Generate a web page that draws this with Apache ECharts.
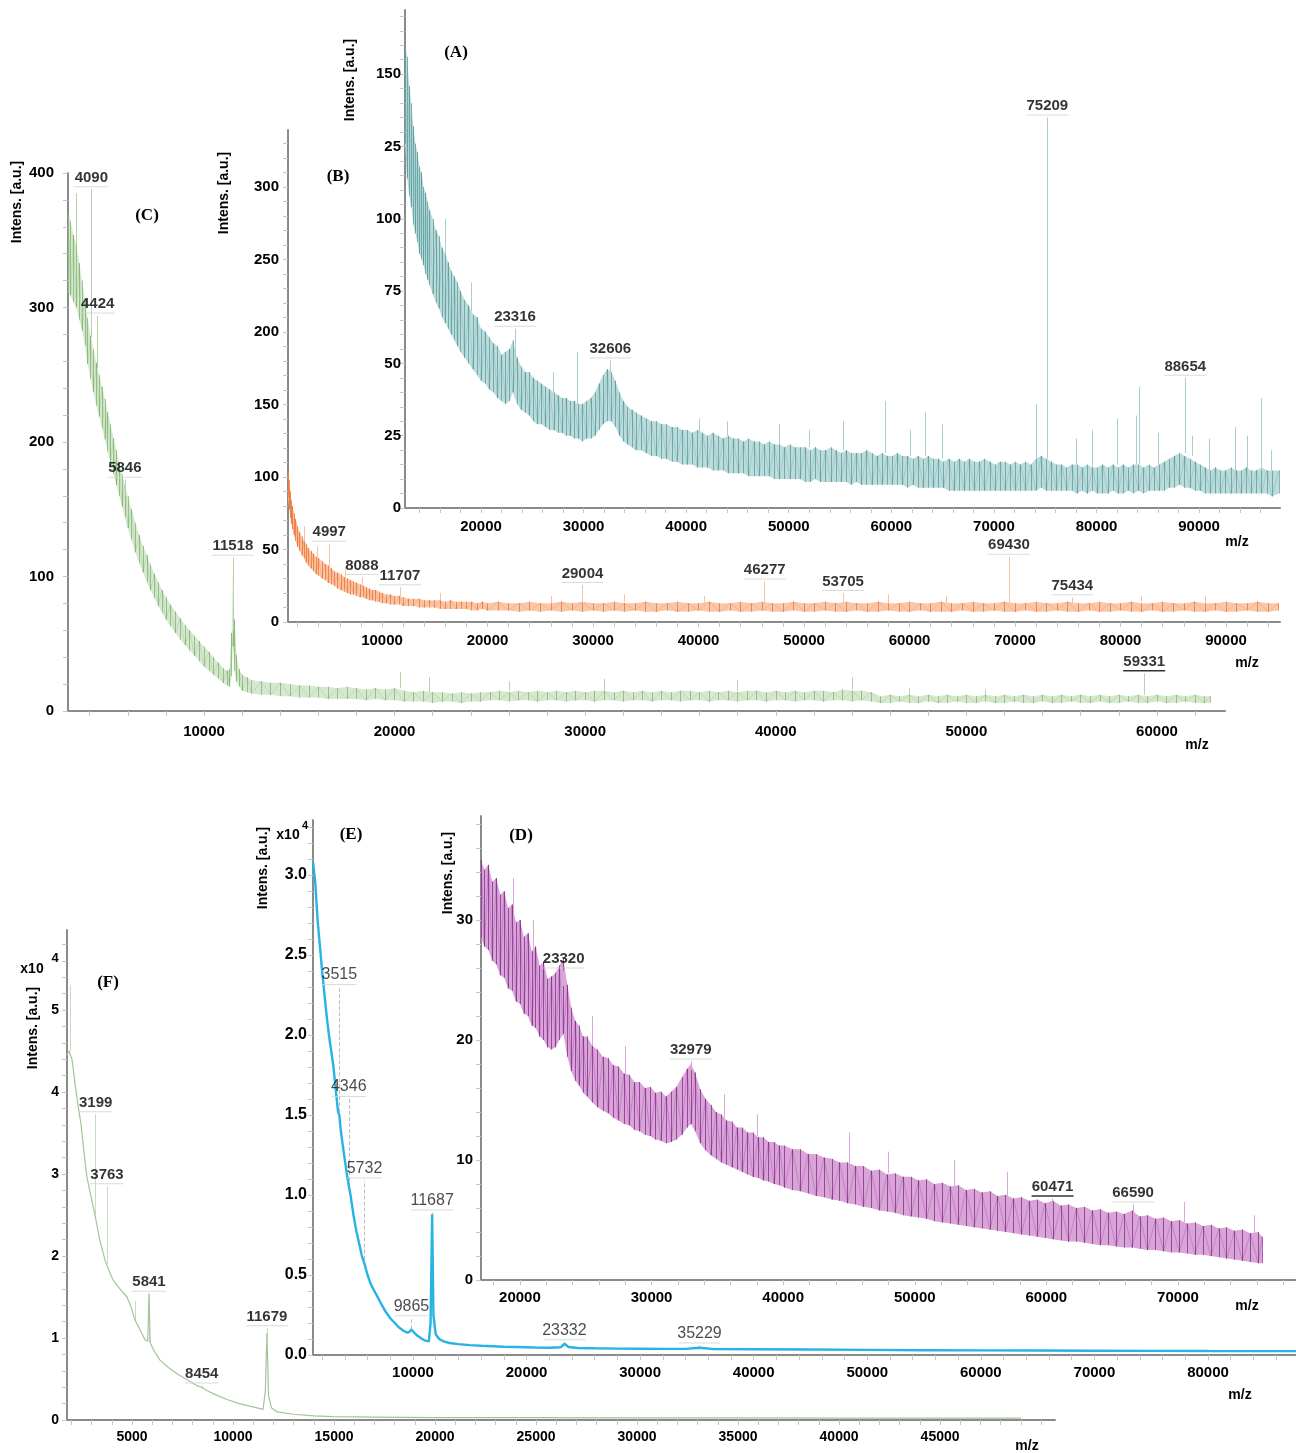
<!DOCTYPE html>
<html>
  <head>
    <meta charset="utf-8">
    <title>MALDI spectra A-F</title>
    <style>
      html, body { margin: 0; padding: 0; background: #fff; }
    </style>
  </head>
  <body>
    <div id="main" style="width: 1296px;height:1453px;"></div>
  </body>
  <script type="text/javascript" src="https://cdn.jsdelivr.net/npm/echarts@6/dist/echarts.min.js"></script>
  <script type="text/javascript">
      // spectra as [m/z, lower edge, upper edge] of the noise band
      var specA = [
        [12600,126,160],[12800,114,156],[13000,108,146],[13200,104,140],[13400,98,132],[13600,95,126],[13800,92,123],[14000,88,118],
        [14200,86,116],[14400,84,111],[14600,81,109],[14800,79,106],[15000,77,103],[15300,74,100],[15600,71,96],[15900,69,94],
        [16200,66,90],[16500,64,88],[16800,62,85],[17100,60,82],[17400,58,80],[17700,56,78],[18000,54,75],[18400,52,72],
        [18800,50,70],[19200,48,67],[19600,46,66],[20000,44,62],[20400,43,61],[20800,41,59],[21200,40,57],[21600,38,56],
        [22000,37,53],[22400,36,54],[22800,37,55],[23100,40,58],[23500,36,52],[23900,34,49],[24300,33,47],[24700,32,47],
        [25100,30,45],[25500,29,44],[25900,29,43],[26300,28,42],[26700,27,41],[27100,27,40],[27500,26,39],[27900,26,38],
        [28300,25,38],[28700,25,37],[29100,24,37],[29500,24,36],[29900,23,36],[30300,24,37],[30700,24,38],[31100,25,40],
        [31500,27,43],[31900,29,46],[32300,30,48],[32700,30,47],[33100,28,44],[33500,25,40],[33900,23,37],[34300,22,35],
        [34700,21,34],[35100,20,33],[35600,20,32],[36100,19,31],[36600,18,30],[37100,18,30],[37600,17,29],[38100,17,29],
        [38600,16,28],[39100,16,28],[39600,15,27],[40100,15,27],[40600,15,26],[41100,14,27],[41600,14,26],[42100,14,25],
        [42600,13,26],[43100,13,25],[43600,13,24],[44100,12,25],[44600,12,24],[45100,12,24],[45600,12,23],[46100,11,24],
        [46600,11,23],[47100,11,23],[47600,11,22],[48100,11,23],[48600,10,22],[49100,10,22],[49600,10,21],[50100,10,22],
        [50600,10,21],[51100,10,21],[51600,9,21],[52100,9,20],[52600,10,21],[53100,9,20],[53600,9,20],[54100,9,21],
        [54600,9,20],[55100,9,19],[55600,9,20],[56100,8,19],[56600,9,19],[57100,8,19],[57600,8,20],[58100,8,19],
        [58600,8,18],[59100,8,19],[59600,8,18],[60100,8,18],[60600,8,19],[61100,8,18],[61600,7,18],[62100,8,17],
        [62600,7,18],[63100,7,17],[63600,7,18],[64100,7,17],[64600,7,17],[65100,7,16],[65600,6,17],[66100,6,16],
        [66600,6,17],[67100,6,16],[67600,6,17],[68100,6,16],[68600,6,16],[69100,6,17],[69600,6,16],[70100,6,15],
        [70600,6,16],[71100,6,16],[71600,6,15],[72100,6,16],[72600,6,15],[73100,6,16],[73600,6,15],[74100,6,17],
        [74600,7,18],[75100,6,17],[75600,6,16],[76100,6,15],[76600,6,15],[77100,6,14],[77600,6,15],[78100,5,15],
        [78600,6,14],[79100,5,15],[79600,6,14],[80100,5,14],[80600,5,15],[81100,5,14],[81600,6,15],[82100,5,14],
        [82600,5,15],[83100,6,14],[83600,5,15],[84100,6,15],[84600,5,14],[85100,6,15],[85600,6,14],[86100,6,15],
        [86600,6,16],[87100,7,17],[87600,7,18],[88100,8,19],[88600,7,18],[89100,7,17],[89600,6,16],[90100,6,15],
        [90600,5,14],[91100,5,13],[91600,5,14],[92100,5,13],[92600,5,13],[93100,5,14],[93600,5,13],[94100,5,13],
        [94600,5,14],[95100,5,13],[95600,5,13],[96100,5,14],[96600,5,13],[97100,4,13],[97800,5,13]
      ];
      var specB = [
        [1090,86,106],[1200,78,98],[1300,72,90],[1400,68,84],[1500,64,80],[1650,60,75],[1800,56,71],[2000,52,66],
        [2200,49,62],[2400,46,59],[2600,44,56],[2800,41,54],[3000,39,51],[3250,37,49],[3500,35,47],[3750,33,45],
        [4000,32,44],[4300,30,42],[4600,29,40],[4900,27,39],[5200,26,37],[5500,25,35],[5800,23,34],[6100,22,33],
        [6400,21,31],[6700,20,30],[7000,19,29],[7300,19,28],[7600,18,27],[7900,17,26],[8200,17,25],[8500,16,24],
        [8800,15,23],[9100,15,22],[9400,14,22],[9700,14,21],[10000,13,20],[10400,13,19],[10800,12,19],[11200,12,18],
        [11600,12,18],[12000,11,17],[12500,11,16],[13000,11,16],[13500,10,16],[14000,10,15],[14500,10,15],[15000,10,15],
        [15500,9,15],[16000,9,14],[16500,9,15],[17000,9,14],[17500,9,14],[18000,9,14],[18500,8,14],[19000,8,13],
        [19500,9,14],[20000,8,13],[21000,8,14],[22000,8,13],[23000,7,13],[24000,8,14],[25000,7,13],[26000,8,13],
        [27000,7,14],[28000,8,13],[29000,7,14],[30000,8,13],[31000,7,13],[32000,8,14],[33000,7,13],[34000,8,13],
        [35000,7,14],[36000,7,13],[37000,8,13],[38000,7,14],[39000,7,13],[40000,8,13],[41000,7,14],[42000,7,13],
        [43000,8,13],[44000,7,14],[45000,7,13],[46000,8,14],[47000,7,13],[48000,7,13],[49000,8,14],[50000,7,13],
        [51000,7,13],[52000,8,14],[53000,7,13],[54000,7,14],[55000,8,13],[56000,7,13],[57000,7,14],[58000,8,13],
        [59000,7,13],[60000,7,14],[61000,8,13],[62000,7,13],[63000,7,14],[64000,7,13],[65000,8,13],[66000,7,14],
        [67000,7,13],[68000,8,13],[69000,7,14],[70000,7,13],[71000,8,13],[72000,7,14],[73000,7,13],[74000,8,13],
        [75000,7,14],[76000,7,13],[77000,8,13],[78000,7,14],[79000,7,13],[80000,8,13],[81000,7,14],[82000,7,13],
        [83000,8,13],[84000,7,14],[85000,7,13],[86000,8,13],[87000,7,14],[88000,7,13],[89000,8,13],[90000,7,14],
        [91000,7,13],[92000,8,13],[93000,7,14],[94000,7,13],[95000,8,13]
      ];
      var specC = [
        [2870,312,372],[3000,309,364],[3150,304,354],[3300,300,347],[3450,291,333],[3600,283,320],[3750,272,306],[3900,258,292],
        [4050,247,279],[4200,237,269],[4350,227,259],[4500,219,250],[4650,210,241],[4800,202,232],[4950,193,222],[5100,185,213],
        [5250,176,203],[5400,168,194],[5550,160,185],[5700,152,176],[5850,144,168],[6000,136,160],[6200,127,150],[6400,118,140],
        [6600,110,131],[6800,103,123],[7000,96,116],[7200,90,109],[7400,84,102],[7600,78,96],[7800,73,90],[8000,68,85],
        [8250,63,79],[8500,58,74],[8750,53,69],[9000,49,64],[9250,45,60],[9500,41,56],[9750,37,52],[10000,33,48],
        [10250,30,44],[10500,27,40],[10750,24,36],[11000,21,32],[11200,19,30],[11350,18,31],[11450,26,58],[11518,48,104],
        [11600,30,68],[11700,22,42],[11850,18,31],[12000,15,27],[12250,14,25],[12500,13,23],[13000,12,22],[13500,12,21],
        [14000,11,21],[14500,11,20],[15000,10,19],[15500,10,19],[16000,10,18],[16500,9,18],[17000,9,17],[17500,9,18],
        [18000,9,17],[18500,8,16],[19000,9,17],[19500,8,16],[20000,8,17],[20500,7,15],[21000,7,14],[21500,7,15],
        [22000,6,14],[22500,7,14],[23000,7,13],[23500,6,14],[24000,7,13],[24500,7,14],[25000,8,14],[25500,8,15],
        [26000,7,14],[26500,8,15],[27000,8,14],[27500,7,15],[28000,8,14],[28500,8,15],[29000,7,14],[29500,8,15],
        [30000,8,14],[30500,7,15],[31000,8,15],[31500,8,14],[32000,7,15],[32500,8,14],[33000,8,15],[33500,7,14],
        [34000,8,15],[34500,8,14],[35000,7,15],[35500,8,15],[36000,8,14],[36500,7,15],[37000,8,14],[37500,8,15],
        [38000,7,14],[38500,8,15],[39000,8,15],[39500,7,14],[40000,8,15],[40500,8,14],[41000,7,15],[41500,8,14],
        [42000,8,15],[42500,7,15],[43000,8,14],[43500,8,16],[44000,7,15],[44500,8,15],[45000,7,14],[45500,6,11],
        [46000,6,12],[46500,7,11],[47000,6,12],[47500,6,11],[48000,7,12],[48500,6,11],[49000,6,12],[49500,7,11],
        [50000,6,12],[50500,6,11],[51000,7,12],[51500,6,11],[52000,6,12],[52500,7,11],[53000,6,12],[53500,6,11],
        [54000,7,12],[54500,6,11],[55000,6,12],[55500,7,11],[56000,6,12],[56500,6,11],[57000,7,12],[57500,6,11],
        [58000,6,12],[58500,7,11],[59000,6,12],[59500,6,11],[60000,7,12],[60500,6,11],[61000,6,12],[61500,7,11],
        [62000,6,12],[62500,6,11],[62800,6,11]
      ];
      var specD = [
        [17040,28.5,35],[17300,27.8,34.2],[17600,27.5,34.6],[17900,26.6,33.2],[18200,26.3,33.5],[18500,25.4,32.1],[18800,25.2,32.4],
        [19100,24.3,31],[19400,24.1,31.3],[19700,23.2,29.8],[20000,23,30],[20300,22.2,28.6],[20600,22,28.9],[20900,21.2,27.4],
        [21200,21,27.8],[21500,20.3,26.2],[21800,20,26.5],[22100,19.4,25.1],[22400,19.2,25.3],[22700,19.4,25.6],[23000,20,26.2],
        [23300,20.5,26.8],[23600,18.6,24.6],[23900,17.4,22.7],[24200,16.6,21.6],[24500,16.2,21.2],[24800,15.6,20.3],[25100,15.3,20.3],
        [25500,14.8,19.5],[25900,14.4,19.2],[26300,14.1,18.6],[26700,13.9,18.5],[27100,13.5,17.9],[27500,13.3,17.8],[27900,13,17.2],
        [28300,12.9,17.1],[28700,12.5,16.5],[29100,12.4,16.5],[29500,12.1,16],[29900,12,16.1],[30300,11.7,15.6],[30700,11.6,15.7],
        [31100,11.4,15.3],[31500,11.5,15.7],[31900,11.7,16.1],[32300,12.1,16.9],[32700,12.7,17.6],[33000,13,18],[33300,12.4,17.3],
        [33700,11.4,15.9],[34100,10.8,15.1],[34500,10.4,14.6],[34900,10.1,14],[35300,9.8,13.8],[35700,9.6,13.3],[36100,9.4,13.2],
        [36500,9.2,12.7],[36900,9,12.7],[37300,8.8,12.3],[37700,8.6,12.3],[38100,8.5,11.9],[38500,8.3,11.9],[38900,8.2,11.5],
        [39300,8,11.5],[39700,7.9,11.2],[40100,7.7,11.2],[40700,7.5,10.9],[41300,7.4,10.9],[41900,7.2,10.5],[42500,7,10.5],
        [43100,6.9,10.2],[43700,6.7,10.1],[44300,6.6,9.8],[44900,6.4,9.8],[45500,6.3,9.5],[46100,6.1,9.5],[46700,6,9.1],
        [47300,5.8,9.2],[47900,5.7,8.8],[48500,5.6,8.9],[49100,5.4,8.6],[49700,5.3,8.6],[50300,5.2,8.3],[50900,5.1,8.4],
        [51500,4.9,8],[52100,4.8,8.1],[52700,4.7,7.8],[53300,4.6,7.9],[53900,4.5,7.5],[54500,4.4,7.6],[55100,4.3,7.3],
        [55700,4.2,7.4],[56300,4.1,7],[56900,4,7.1],[57500,3.9,6.8],[58100,3.8,6.9],[58700,3.7,6.6],[59300,3.6,6.7],
        [59900,3.5,6.4],[60500,3.4,6.6],[61100,3.3,6.2],[61700,3.2,6.3],[62300,3.2,6],[62900,3.1,6.1],[63500,3,5.8],
        [64100,2.9,5.9],[64700,2.9,5.6],[65300,2.8,5.7],[65900,2.7,5.5],[66500,2.7,5.8],[67100,2.6,5.3],[67700,2.5,5.4],
        [68300,2.5,5.1],[68900,2.4,5.2],[69500,2.3,4.9],[70100,2.3,5],[70700,2.2,4.7],[71300,2.1,4.8],[71900,2.1,4.5],
        [72500,2,4.6],[73100,1.9,4.3],[73700,1.8,4.4],[74300,1.7,4.1],[74900,1.6,4.2],[75500,1.5,3.9],[76100,1.4,4],[76400,1.4,3.6]
      ];
      // E and F: single traces [m/z, intensity x10^4]
      var specE = [
        [1200,3.08],[1400,2.95],[1600,2.72],[1800,2.56],[2000,2.40],[2200,2.26],[2400,2.12],[2600,2.0],[2800,1.9],[3000,1.8],
        [3200,1.66],[3400,1.52],[3515,1.50],[3650,1.40],[3800,1.32],[4000,1.22],[4200,1.12],[4346,1.06],[4500,1.0],[4750,0.88],
        [5000,0.78],[5250,0.7],[5500,0.62],[5732,0.57],[6000,0.5],[6300,0.44],[6600,0.4],[6900,0.36],[7200,0.32],[7600,0.27],
        [8000,0.23],[8400,0.2],[8800,0.17],[9200,0.15],[9500,0.14],[9700,0.145],[9865,0.16],[10100,0.14],[10400,0.12],[10800,0.1],
        [11100,0.09],[11400,0.085],[11550,0.2],[11687,0.88],[11800,0.25],[12000,0.13],[12300,0.1],[12700,0.085],[13200,0.075],
        [14000,0.068],[15000,0.062],[16000,0.058],[17000,0.055],[18000,0.052],[19000,0.05],[20000,0.048],[21000,0.046],
        [22000,0.045],[23000,0.048],[23332,0.07],[23700,0.05],[24500,0.044],[26000,0.042],[28000,0.04],[30000,0.039],
        [32000,0.038],[34000,0.038],[35229,0.045],[36500,0.037],[40000,0.036],[45000,0.034],[50000,0.032],[55000,0.03],
        [60000,0.029],[65000,0.028],[70000,0.027],[75000,0.026],[80000,0.025],[87750,0.024]
      ];
      var specF = [
        [1782,4.45],[1880,4.5],[2030,4.4],[2180,4.1],[2327,3.84],[2480,3.6],[2630,3.25],[2772,2.96],[2950,2.75],[3168,2.5],
        [3400,2.2],[3663,1.95],[3860,1.82],[4059,1.71],[4400,1.6],[4752,1.5],[4950,1.38],[5148,1.22],[5396,1.1],[5643,0.98],
        [5780,0.96],[5841,1.54],[5900,0.94],[6100,0.84],[6386,0.73],[6800,0.64],[7250,0.56],[7723,0.49],[8200,0.42],[8454,0.4],
        [8700,0.36],[9208,0.3],[9700,0.25],[10300,0.2],[10990,0.16],[11485,0.13],[11600,0.35],[11679,1.06],[11760,0.3],
        [11900,0.15],[12178,0.1],[13000,0.07],[14000,0.05],[14950,0.04],[17000,0.035],[20000,0.03],[25000,0.028],[30000,0.026],
        [35000,0.025],[40000,0.024],[45000,0.023],[49000,0.022]
      ];

      // labelled peaks [m/z, from, to]; label sits on top
      var peaksA = [[23316,52,62],[32606,47,51],[75209,17,135],[88654,19,45]];
      var peaksB = [[4997,38,54],[8088,25,31],[11707,18,24],[29004,13,25.5],[46277,13,28],[53705,13,20],[69430,13,45],[75434,13,17]];
      var peaksC = [[4090,278,388],[4424,255,294],[5846,160,172],[11518,60,114],[59331,12,28]];
      var peaksD = [[23320,24.5,25.8],[32979,17.5,18.2],[60471,6.5,6.8],[66590,5.6,6.3]];
      var peaksE = [[3515,1.48,2.3],[4346,1.05,1.6],[5732,0.56,1.09],[9865,0.16,0.23],[11687,0.88,0.89],[23332,0.07,0.08],[35229,0.045,0.06]];
      var peaksF = [[3199,2.5,3.73],[3763,1.9,2.85],[5841,0.95,1.54],[8454,0.38,0.42],[11679,1.0,1.12]];
      var underlined = [59331, 60471];

      // unlabelled spikes [m/z, from, to]
      var spikesA = [[16500,88,100],[19000,68,78],[27000,40,47],[29400,36,54],[41300,26,31],[44000,25,30],[49100,22,29],[52000,21,27],
        [55300,20,30],[59400,19,37],[61800,18,27],[63300,18,33],[65000,17,29],[74100,17,36],[78000,15,24],[79600,14,27],[82000,15,31],
        [83900,15,32],[84200,15,42],[86000,15,26],[89300,18,25],[91000,13,24],[93500,13,28],[94700,13,25],[96100,13,38],[97000,13,20]];
      var spikesB = [[2600,56,66],[3900,44,52],[6500,31,38],[15500,15,20],[26000,13,18],[33000,14,19],[40500,13,18],[58000,13,19],
        [63500,13,18],[82000,14,18],[88000,13,18]];
      var spikesC = [[3300,347,385],[20300,17,29],[21800,14,25],[26000,15,22],[31000,15,24],[38000,15,23],[44000,16,25],[47000,12,17],[51000,12,16]];
      var spikesD = [[19500,30.5,33.5],[21000,27.5,30],[25500,19.5,22],[28000,17,19.5],[35500,13.5,15.5],[38000,12,13.8],[45000,9.7,12.3],
        [48000,8.9,10.7],[53000,7.8,10],[57000,7,9],[70500,4.8,6.5],[75800,3.9,5.4]];
      var spikesF = [[1950,4.5,5.3],[5150,1.22,1.45]];

      // tick labels
      var xLabA = [20000,30000,40000,50000,60000,70000,80000,90000];
      var yLabA = [0,25,50,75,100,125,150];
      var xLabB = [10000,20000,30000,40000,50000,60000,70000,80000,90000];
      var yLabB = [0,50,100,150,200,250,300];
      var xLabC = [10000,20000,30000,40000,50000,60000];
      var yLabC = [0,100,200,300,400];
      var xLabD = [20000,30000,40000,50000,60000,70000];
      var yLabD = [0,10,20,30];
      var xLabE = [10000,20000,30000,40000,50000,60000,70000,80000];
      var yLabE = [0,0.5,1,1.5,2,2.5,3];
      var xLabF = [5000,10000,15000,20000,25000,30000,35000,40000,45000];
      var yLabF = [0,1,2,3,4,5];

      var SANS = '"Liberation Sans", Arial, sans-serif';
      var SERIF = '"Liberation Serif", "Times New Roman", serif';
      var AXIS = '#8a8a8a', TICK = '#c4c4c4';

      function seq(a, b, s) {
        var out = [];
        for (var v = a; v <= b + 1e-9; v += s) out.push(Math.round(v * 1000) / 1000);
        return out;
      }
      function plain(v) { return String(v); }

      function xAx(gi, min, max, labels, ticks, margin, size) {
        return {
          type: 'value', gridIndex: gi, min: min, max: max,
          axisLine: { show: true, onZero: false, lineStyle: { color: AXIS, width: 2 } },
          axisTick: { show: true, customValues: ticks, length: 5, lineStyle: { color: TICK } },
          axisLabel: { customValues: labels, margin: margin, fontSize: size, fontWeight: 'bold',
                       fontFamily: SANS, color: '#000', formatter: plain },
          splitLine: { show: false }
        };
      }
      function yAx(gi, max, labels, ticks, margin, size, fmt) {
        return {
          type: 'value', gridIndex: gi, min: 0, max: max,
          axisLine: { show: true, onZero: false, lineStyle: { color: AXIS, width: 2 } },
          axisTick: { show: true, customValues: ticks, length: 5, lineStyle: { color: TICK } },
          axisLabel: { customValues: labels, margin: margin, fontSize: size, fontWeight: 'bold',
                       fontFamily: SANS, color: '#000', formatter: fmt || plain },
          splitLine: { show: false }
        };
      }

      // noise band: filled polygon between the edges + hairlines at every sample
      function band(spec, gi, fill, stroke, op) {
        return [
          { type: 'custom', xAxisIndex: gi, yAxisIndex: gi, silent: true, z: 1,
            data: [[spec[0][0], spec[0][1]]],
            renderItem: function (params, api) {
              var pts = [];
              spec.forEach(function (p) { pts.push(api.coord([p[0], p[2]])); });
              for (var i = spec.length - 1; i >= 0; i--) pts.push(api.coord([spec[i][0], spec[i][1]]));
              return { type: 'polygon', shape: { points: pts }, style: { fill: fill } };
            } },
          { type: 'lines', coordinateSystem: 'cartesian2d', xAxisIndex: gi, yAxisIndex: gi, silent: true, z: 2,
            lineStyle: { color: stroke, width: 1, opacity: op },
            data: spec.map(function (p) { return { coords: [[p[0], p[1]], [p[0], p[2]]] }; }) },
          { type: 'line', xAxisIndex: gi, yAxisIndex: gi, symbol: 'none', silent: true, z: 2,
            lineStyle: { width: 0.6, color: stroke, opacity: op * 0.6 },
            data: spec.map(function (p, i) { return [p[0], i % 2 ? p[1] : p[2]]; }) }
        ];
      }
      function trace(spec, gi, stroke, lw) {
        return { type: 'line', xAxisIndex: gi, yAxisIndex: gi, symbol: 'none', silent: true,
                 lineStyle: { width: lw, color: stroke }, data: spec };
      }
      function spikes(list, gi, color, dashed) {
        return { type: 'lines', coordinateSystem: 'cartesian2d', xAxisIndex: gi, yAxisIndex: gi, silent: true, z: 3,
                 lineStyle: { color: color, width: 1, opacity: 1, type: dashed ? 'dashed' : 'solid' },
                 data: list.map(function (s) { return { coords: [[s[0], s[1]], [s[0], s[2]]] }; }) };
      }
      function labels(list, gi, thin) {
        return {
          type: 'scatter', xAxisIndex: gi, yAxisIndex: gi, symbolSize: 1, silent: true, z: 5,
          itemStyle: { color: 'rgba(0,0,0,0)' },
          data: list.map(function (p) { return [p[0], p[2]]; }),
          label: {
            show: true, position: 'top', distance: 1, color: '#000',
            formatter: function (p) {
              var s = String(p.value[0]);
              var u = underlined.indexOf(p.value[0]) >= 0 ? 'k' : 'g';
              return '{t|' + s + '}\n{' + u + (s.length > 4 ? '5' : '4') + '| }';
            },
            rich: {
              t: thin ? { fontFamily: SANS, fontSize: 16, fontWeight: 'normal', color: '#1a1a1a', lineHeight: 17 }
                      : { fontFamily: SANS, fontSize: 15, fontWeight: 'bold', color: '#000', lineHeight: 16 },
              g4: { width: 34, height: 1, fontSize: 1, lineHeight: 2, backgroundColor: '#d2d2d2' },
              g5: { width: 42, height: 1, fontSize: 1, lineHeight: 2, backgroundColor: '#d2d2d2' },
              k5: { width: 42, height: 1.5, fontSize: 1, lineHeight: 2, backgroundColor: '#000' }
            }
          }
        };
      }

      function txt(x, y, s, font, rot) {
        return { type: 'text', x: x, y: y, rotation: rot || 0, z: 10,
                 style: { text: s, x: 0, y: 0, font: font, fill: '#000', align: 'center', verticalAlign: 'middle' } };
      }

      var titleFont = 'bold 14px ' + SANS;
      var panelFont = 'bold 17px ' + SERIF;
      var R = Math.PI / 2;

      var myChart = echarts.init(document.getElementById('main'));
      myChart.setOption({
        backgroundColor: '#fff',
        animation: false,
        grid: [
          { left: 405, top: 10, width: 875, height: 498 },   // A
          { left: 288, top: 130, width: 992, height: 492 },  // B
          { left: 68, top: 173, width: 1157, height: 538 },  // C
          { left: 481, top: 816, width: 815, height: 464 },  // D
          { left: 313, top: 820, width: 983, height: 535 },  // E
          { left: 67, top: 930, width: 988, height: 490 }    // F
        ],
        xAxis: [
          xAx(0, 12590, 97890, xLabA, seq(14000, 96000, 2000), 11, 15),
          xAx(1, 1090, 95120, xLabB, seq(2000, 94000, 2000), 11, 15),
          xAx(2, 2865, 63570, xLabC, seq(4000, 62000, 2000), 13, 15),
          xAx(3, 17040, 78970, xLabD, seq(18000, 78000, 2000), 10, 15),
          xAx(4, 1197, 87750, xLabE, seq(2000, 86000, 2000), 10, 15),
          xAx(5, 1782, 50690, xLabF, seq(2000, 50000, 1000), 10, 14)
        ],
        yAxis: [
          yAx(0, 172.2, yLabA, seq(0, 170, 5), 4, 15, function (v) { return v === 125 ? '25' : String(v); }),
          yAx(1, 339.3, yLabB, seq(0, 330, 10), 9, 15),
          yAx(2, 400, yLabC, seq(0, 400, 20), 14, 15),
          yAx(3, 38.67, yLabD, seq(0, 38, 2), 8, 15),
          yAx(4, 3.344, yLabE, seq(0, 3.3, 0.1), 6, 16, function (v) { return v.toFixed(1); }),
          yAx(5, 5.976, yLabF, seq(0, 5.8, 0.2), 8, 14)
        ],
        series: [].concat(
          band(specC, 2, '#d6e8cf', '#5f9e4d', 0.55),
          [spikes(spikesC.concat(peaksC), 2, '#b8d4ad'), labels(peaksC, 2)],
          band(specB, 1, '#f9c8aa', '#ee6a25', 0.7),
          [spikes(spikesB.concat(peaksB), 1, '#f6c2a0'), labels(peaksB, 1)],
          band(specA, 0, '#bddbdb', '#3a8a8b', 0.6),
          [spikes(spikesA.concat(peaksA), 0, '#a9d0d0'), labels(peaksA, 0)],
          [trace(specF, 5, '#a3c59a', 1.2), spikes(spikesF.concat(peaksF), 5, '#c9dcc3'), labels(peaksF, 5)],
          [trace(specE, 4, '#27b3e4', 2.4), spikes(peaksE, 4, '#bdbdbd', true), labels(peaksE, 4, true)],
          band(specD, 3, '#d7a6d7', '#7d0f82', 0.65),
          [spikes(spikesD.concat(peaksD), 3, '#d9a9d9'), labels(peaksD, 3)]
        ),
        graphic: [
          txt(456, 53, '(A)', panelFont), txt(338, 177, '(B)', panelFont), txt(147, 216, '(C)', panelFont),
          txt(521, 836, '(D)', panelFont), txt(351, 835, '(E)', panelFont), txt(108, 983, '(F)', panelFont),
          txt(350, 80, 'Intens. [a.u.]', titleFont, R), txt(224, 193, 'Intens. [a.u.]', titleFont, R),
          txt(17, 202, 'Intens. [a.u.]', titleFont, R), txt(448, 873, 'Intens. [a.u.]', titleFont, R),
          txt(263, 868, 'Intens. [a.u.]', titleFont, R), txt(33, 1028, 'Intens. [a.u.]', titleFont, R),
          txt(288, 835, 'x10', 'bold 14px ' + SANS), txt(305, 826, '4', 'bold 11px ' + SANS),
          txt(32, 969, 'x10', 'bold 14px ' + SANS), txt(55, 958, '4', 'bold 13px ' + SANS),
          txt(1237, 542, 'm/z', titleFont), txt(1247, 663, 'm/z', titleFont), txt(1197, 745, 'm/z', titleFont),
          txt(1247, 1306, 'm/z', titleFont), txt(1240, 1395, 'm/z', titleFont), txt(1027, 1446, 'm/z', titleFont)
        ]
      });
  </script>
</html>
